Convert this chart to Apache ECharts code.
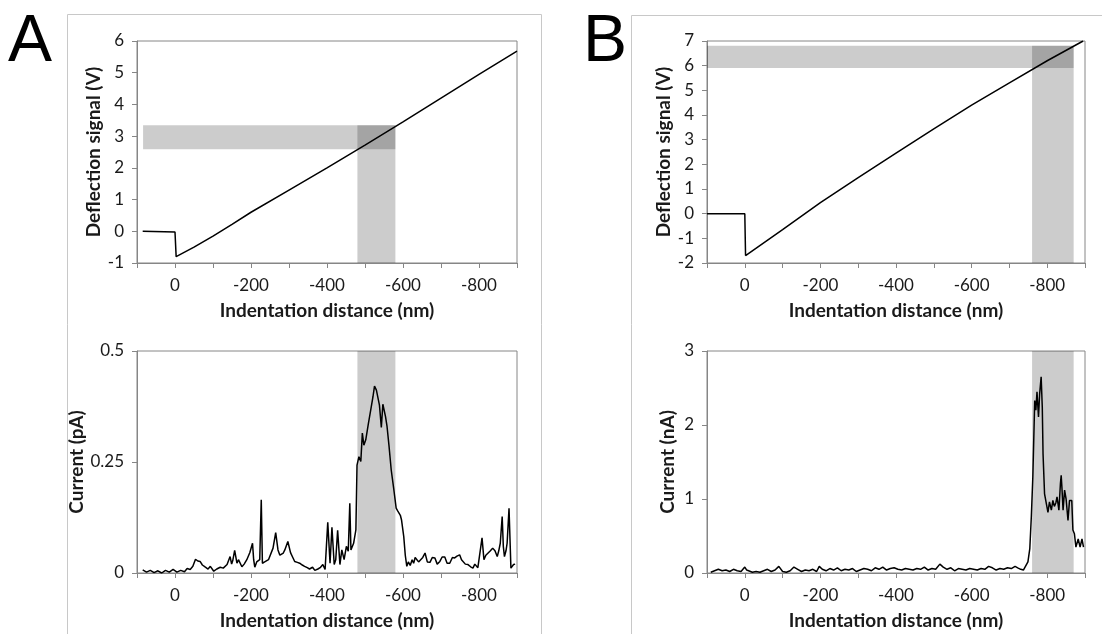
<!DOCTYPE html>
<html><head><meta charset="utf-8">
<script src="https://cdn.jsdelivr.net/npm/echarts@6/dist/echarts.min.js"></script>
<style>html,body{margin:0;padding:0;background:#fff}#c{width:1102px;height:634px}</style>
</head><body><div id="c"></div>
<script>
// ---- Data ----
var xTitle = 'Indentation distance (nm)';
var yTitles = ['Deflection signal (V)', 'Current (pA)', 'Deflection signal (V)', 'Current (nA)'];
var panelLetters = ['A', 'B'];

var deflA = [[85,0],[0,-0.02],[-3,-0.8],[-50,-0.5],[-100,-0.15],[-150,0.22],[-200,0.6],[-300,1.3],[-400,2.0],[-500,2.72],[-600,3.45],[-700,4.2],[-800,4.95],[-900,5.68]];
var deflB = [[100,0],[0,0],[-2,-1.7],[-100,-0.65],[-200,0.45],[-300,1.46],[-400,2.45],[-500,3.44],[-600,4.4],[-700,5.3],[-800,6.2],[-895,7.0]];

var currentA = [[85,0.007],[75,0.002],[65,0.006],[55,0.001],[45,0.005],[35,0.0],[25,0.006],[15,0.002],[5,0.008],[-5,0.002],[-15,0.006],[-25,0.003],[-32,0.01],[-40,0.008],[-47,0.015],[-54,0.031],[-60,0.027],[-66,0.026],[-72,0.018],[-80,0.013],[-87,0.009],[-93,0.015],[-102,0.004],[-110,0.009],[-119,0.013],[-127,0.011],[-137,0.019],[-141,0.015],[-145,0.037],[-149,0.02],[-152,0.028],[-157,0.051],[-163,0.022],[-167,0.03],[-171,0.031],[-176,0.014],[-182,0.02],[-189,0.03],[-197,0.046],[-204,0.067],[-207,0.03],[-210,0.013],[-215,0.025],[-219,0.022],[-223,0.03],[-227,0.165],[-230,0.022],[-236,0.025],[-241,0.026],[-246,0.03],[-251,0.031],[-258,0.056],[-265,0.091],[-271,0.052],[-276,0.04],[-280,0.037],[-285,0.045],[-289,0.052],[-297,0.071],[-304,0.046],[-310,0.035],[-315,0.026],[-322,0.024],[-328,0.022],[-335,0.018],[-341,0.015],[-348,0.012],[-354,0.009],[-358,0.005],[-362,0.013],[-368,0.006],[-376,0.009],[-382,0.012],[-389,0.019],[-395,0.008],[-402,0.114],[-408,0.022],[-413,0.103],[-419,0.019],[-423,0.03],[-428,0.096],[-434,0.019],[-439,0.052],[-445,0.03],[-451,0.06],[-456,0.049],[-460,0.157],[-463,0.052],[-470,0.067],[-476,0.097],[-479,0.243],[-484,0.262],[-489,0.251],[-493,0.315],[-497,0.288],[-502,0.3],[-509,0.337],[-515,0.367],[-521,0.397],[-525,0.421],[-530,0.412],[-535,0.408],[-538,0.378],[-543,0.328],[-547,0.38],[-550,0.378],[-554,0.352],[-558,0.33],[-563,0.288],[-569,0.232],[-576,0.187],[-582,0.146],[-586,0.14],[-589,0.139],[-593,0.13],[-596,0.12],[-602,0.082],[-606,0.04],[-610,0.015],[-614,0.025],[-619,0.017],[-624,0.03],[-628,0.022],[-632,0.035],[-637,0.037],[-641,0.025],[-645,0.026],[-652,0.035],[-658,0.045],[-664,0.025],[-671,0.024],[-677,0.035],[-684,0.034],[-690,0.02],[-697,0.026],[-703,0.036],[-710,0.036],[-716,0.022],[-723,0.022],[-730,0.035],[-736,0.034],[-742,0.038],[-749,0.041],[-754,0.03],[-758,0.03],[-764,0.02],[-771,0.019],[-778,0.014],[-784,0.011],[-789,0.02],[-793,0.022],[-797,0.012],[-802,0.013],[-808,0.079],[-813,0.03],[-818,0.04],[-823,0.037],[-830,0.05],[-836,0.056],[-842,0.05],[-848,0.037],[-852,0.05],[-856,0.067],[-861,0.127],[-864,0.06],[-867,0.037],[-871,0.05],[-874,0.067],[-879,0.146],[-884,0.011],[-888,0.01],[-891,0.019],[-895,0.02]];

var currentB = [[90,0.01],[80,0.03],[70,0.05],[60,0.03],[50,0.04],[40,0.02],[30,0.05],[20,0.03],[10,0.02],[0,0.08],[-5,0.04],[-10,0.06],[-20,0.01],[-30,0.02],[-40,0.01],[-50,0.03],[-60,0.05],[-70,0.02],[-80,0.04],[-90,0.09],[-100,0.02],[-110,0.01],[-120,0.03],[-130,0.08],[-140,0.05],[-150,0.02],[-160,0.04],[-170,0.03],[-180,0.05],[-190,0.02],[-197,0.09],[-205,0.05],[-215,0.03],[-225,0.06],[-235,0.04],[-245,0.07],[-255,0.03],[-265,0.05],[-275,0.04],[-285,0.06],[-295,0.02],[-305,0.04],[-315,0.06],[-325,0.05],[-335,0.03],[-345,0.07],[-355,0.05],[-365,0.08],[-375,0.04],[-385,0.06],[-395,0.07],[-405,0.05],[-415,0.04],[-425,0.06],[-435,0.05],[-445,0.04],[-455,0.06],[-465,0.05],[-475,0.08],[-485,0.04],[-495,0.06],[-505,0.05],[-516,0.12],[-525,0.08],[-535,0.05],[-545,0.07],[-555,0.03],[-565,0.06],[-575,0.05],[-585,0.04],[-595,0.06],[-605,0.05],[-615,0.04],[-625,0.06],[-635,0.05],[-645,0.09],[-655,0.07],[-665,0.04],[-675,0.06],[-685,0.05],[-695,0.07],[-705,0.06],[-715,0.09],[-722,0.07],[-730,0.05],[-737,0.04],[-741,0.06],[-749,0.15],[-754,0.33],[-758,0.76],[-762,1.3],[-767,2.33],[-770,2.2],[-773,2.45],[-777,2.11],[-780,2.42],[-784,2.65],[-787,2.24],[-789,1.61],[-793,1.07],[-798,1.08],[-802,0.82],[-806,0.96],[-811,0.85],[-815,0.98],[-819,0.9],[-823,0.95],[-826,1.03],[-831,0.85],[-835,1.21],[-837,1.32],[-839,1.15],[-842,0.85],[-846,1.12],[-850,1.0],[-855,0.71],[-859,0.98],[-865,0.98],[-868,0.58],[-872,0.53],[-876,0.35],[-882,0.46],[-887,0.35],[-892,0.46],[-896,0.35]];

// shaded bands: [x1, x2, y1, y2]
var bandsA1 = [[84,-580,2.585,3.34],[-480,-580,-1,3.34]];
var bandsA2 = [[-480,-580,0,0.5]];
var bandsB1 = [[100,-870,5.91,6.81],[-760,-870,-2,6.81]];
var bandsB2 = [[-760,-870,0,3]];

var yRanges = [[-1,6,1],[0,0.5,0.25],[-2,7,1],[0,3,1]];
var xRange = [-900,100,100];

// ---- Chart ----
var chart = echarts.init(document.getElementById('c'));
var axisCol = '#868686';
var txtCol = '#1a1a1a';
var grids = [
  {left:137, top:41, width:380, height:222},
  {left:137, top:351, width:380, height:222},
  {left:707, top:41, width:378, height:222},
  {left:707, top:351, width:378, height:222}
];
var yNameGaps = [34, 43, 34, 30];
function toAreas(b){ return b.map(function(r){ return [{coord:[r[0],r[2]]},{coord:[r[1],r[3]]}]; }); }
var bands = [bandsA1, bandsA2, bandsB1, bandsB2];
var datas = [deflA, currentA, deflB, currentB];

var opt = {
  animation:false,
  grid: grids.map(function(g){ return Object.assign({show:true, borderColor:axisCol, borderWidth:1, backgroundColor:'transparent'}, g); }),
  xAxis: grids.map(function(g,i){ return {
    type:'value', gridIndex:i, inverse:true, min:xRange[0], max:xRange[1], interval:xRange[2],
    name:xTitle, nameLocation:'middle', nameGap:38,
    nameTextStyle:{fontFamily:'Lato', fontWeight:'bold', fontSize:19, color:txtCol},
    axisLine:{show:true, onZero:false, lineStyle:{color:axisCol, width:1}},
    axisTick:{show:true, inside:false, length:5, lineStyle:{color:axisCol}},
    splitLine:{show:false},
    axisLabel:{margin:14, fontFamily:'Lato', fontSize:17, color:txtCol,
      formatter:function(v){ return (Math.round(v) % 200 === 0) ? String(Math.round(v)) : ''; }}
  };}),
  yAxis: grids.map(function(g,i){ return {
    type:'value', gridIndex:i, min:yRanges[i][0], max:yRanges[i][1], interval:yRanges[i][2],
    name:yTitles[i], nameLocation:'middle', nameGap:yNameGaps[i],
    nameTextStyle:{fontFamily:'Lato', fontWeight:'bold', fontSize:19, color:txtCol},
    axisLine:{show:true, onZero:false, lineStyle:{color:axisCol, width:1}},
    axisTick:{show:true, inside:false, length:5, lineStyle:{color:axisCol}},
    splitLine:{show:false},
    axisLabel:{margin:13, fontFamily:'Lato', fontSize:17, color:txtCol}
  };}),
  series: datas.map(function(d,i){ return {
    type:'line', xAxisIndex:i, yAxisIndex:i, data:d, showSymbol:false, symbol:'none',
    lineStyle:{color:'#000', width:1.5}, z:3, silent:true,
    markArea:{silent:true, itemStyle:{color:'rgba(0,0,0,0.2)'}, data:toAreas(bands[i])}
  };}),
  graphic: [
    {type:'line', shape:{x1:67.5,y1:14.5,x2:67.5,y2:634}, style:{stroke:'#c8c8c8', lineWidth:1}},
    {type:'line', shape:{x1:67.5,y1:14.5,x2:541.5,y2:14.5}, style:{stroke:'#c8c8c8', lineWidth:1}},
    {type:'line', shape:{x1:541.5,y1:14.5,x2:541.5,y2:634}, style:{stroke:'#c8c8c8', lineWidth:1}},
    {type:'line', shape:{x1:631.5,y1:15.5,x2:631.5,y2:634}, style:{stroke:'#c8c8c8', lineWidth:1}},
    {type:'line', shape:{x1:631.5,y1:15.5,x2:1102,y2:15.5}, style:{stroke:'#c8c8c8', lineWidth:1}},
    {type:'text', left:8, top:10, style:{text:panelLetters[0], font:'normal 66px "Liberation Sans"', fill:'#000'}},
    {type:'text', left:583, top:10, style:{text:panelLetters[1], font:'normal 66px "Liberation Sans"', fill:'#000'}}
  ]
};
chart.setOption(opt);
</script></body></html>
